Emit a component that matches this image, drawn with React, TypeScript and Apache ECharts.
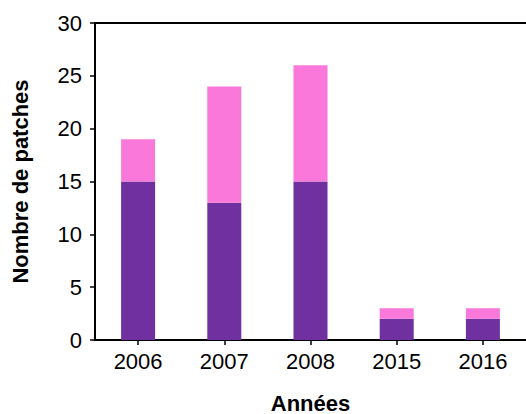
import React, { useEffect, useRef } from "react";
import * as echarts from "echarts";

const categories = ["2006", "2007", "2008", "2015", "2016"];
const darkValues = [15, 13, 15, 2, 2];
const pinkValues = [4, 11, 11, 1, 1];
const yTicks = { min: 0, max: 30, interval: 5 };

export default function App() {
  const ref = useRef<HTMLDivElement>(null);
  useEffect(() => {
    if (!ref.current) return;
    const chart = echarts.init(ref.current, null, { renderer: "svg" });
    const font = "Liberation Sans, Arial, sans-serif";
    chart.setOption({
      animation: false,
      grid: { left: 95, right: 0, top: 23, bottom: 74, containLabel: false, outerBoundsMode: "none" },
      xAxis: [
        {
          type: "category",
          data: categories,
          name: "Années",
          nameLocation: "middle",
          nameGap: 52,
          nameTextStyle: { fontFamily: font, fontSize: 22, fontWeight: "bold", color: "#000" },
          axisLine: { lineStyle: { color: "#000", width: 2 } },
          axisTick: { show: true, alignWithLabel: true, length: 5, lineStyle: { color: "#000", width: 1.5 } },
          axisLabel: { fontFamily: font, fontSize: 22, color: "#000", margin: 10 },
        },
        {
          type: "category",
          data: categories,
          position: "top",
          axisLine: { show: true, lineStyle: { color: "#000", width: 2 } },
          axisTick: { show: false },
          axisLabel: { show: false },
        },
      ],
      yAxis: {
        type: "value",
        min: yTicks.min,
        max: yTicks.max,
        interval: yTicks.interval,
        name: "Nombre de patches",
        nameLocation: "middle",
        nameGap: 64,
        nameTextStyle: { fontFamily: font, fontSize: 22, fontWeight: "bold", color: "#000" },
        axisLine: { show: true, lineStyle: { color: "#000", width: 2 } },
        axisTick: { show: true, length: 5, lineStyle: { color: "#000", width: 1.5 } },
        axisLabel: { fontFamily: font, fontSize: 22, color: "#000", margin: 13 },
        splitLine: { show: false },
      },
      series: [
        {
          type: "bar",
          stack: "total",
          data: darkValues,
          barWidth: 34,
          itemStyle: { color: "#7030A0" },
        },
        {
          type: "bar",
          stack: "total",
          data: pinkValues,
          barWidth: 34,
          itemStyle: { color: "#FA78DA" },
        },
      ],
    });
    return () => chart.dispose();
  }, []);
  return <div ref={ref} style={{ width: 526, height: 414, position: "absolute", left: 0, top: 0 }} />;
}
